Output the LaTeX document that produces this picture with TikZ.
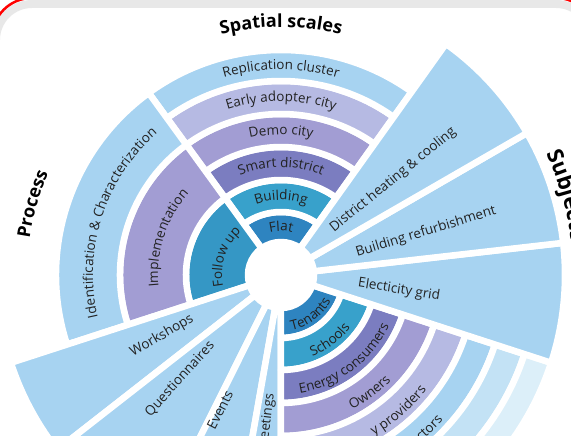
\documentclass[tikz,border=0pt]{standalone}
\usepackage{fontspec}
\setmainfont{Open Sans}
\usetikzlibrary{decorations.text}
\definecolor{lightsky}{HTML}{A7D3F1}
\definecolor{flatblue}{HTML}{2E84C0}
\definecolor{buildblue}{HTML}{38A1CB}
\definecolor{followblue}{HTML}{3597C5}
\definecolor{smartpurple}{HTML}{7B7DC0}
\definecolor{demopurple}{HTML}{A29DD3}
\definecolor{earlyviolet}{HTML}{B6BAE3}
\definecolor{paleblue}{HTML}{C3E2F5}
\definecolor{palerblue}{HTML}{DCEFF9}
\definecolor{textgrey}{HTML}{222222}
\newcommand{\lblfont}{\fontsize{13.5}{15}\selectfont}
\newcommand{\ttlfont}{\fontsize{18}{21}\selectfont\bfseries}
% fill colour, start angle, end angle, inner radius, outer radius
\newcommand{\ringpart}[5]{\filldraw[segment, fill=#1] (#2:#4) arc[start angle=#2, end angle=#3, radius=#4] -- (#3:#5) arc[start angle=#3, end angle=#2, radius=#5] -- cycle;}
% [align], start angle, end angle, radius, text
\newcommand{\arclabel}[5][center]{\path[ringtext, decoration={text align=#1, text={|\lblfont|#5}}] (#2:#4) arc[start angle=#2, end angle=#3, radius=#4];}

\begin{document}
\begin{tikzpicture}[x=1pt, y=1pt,
  segment/.style={draw=white, line width=6.5pt, line join=round},
  ringtext/.style={decorate, decoration={text along path, text align=center, text color=textgrey}},
  titletext/.style={decorate, decoration={text along path, text align=center, text color=black}},
  wedgelabel/.style={text=textgrey, font=\lblfont, inner sep=0pt}]
\useasboundingbox (-281,-161) rectangle (290,275);
\clip (-281,-161) rectangle (290,275);

% frame
\draw[black!9, line width=8pt, rounded corners=36pt] (-285,-400) rectangle (311,271);
\draw[red, line width=2.5pt, rounded corners=40pt] (-289,-400) rectangle (315,277);

% spatial scales
\ringpart{flatblue}{54.5}{126}{33}{63}
\ringpart{buildblue}{54.5}{126}{63}{95}
\ringpart{smartpurple}{54.5}{126}{95}{128}
\ringpart{demopurple}{54.5}{126}{128}{161}
\ringpart{earlyviolet}{54.5}{126}{161}{194}
\ringpart{lightsky}{54.5}{126}{194}{225}

% process
\ringpart{followblue}{126}{198}{33}{95}
\ringpart{demopurple}{126}{198}{95}{161}
\ringpart{lightsky}{126}{198}{161}{225}

% methods
\ringpart{lightsky}{198}{218}{33}{284}
\ringpart{lightsky}{218}{243.5}{33}{284}
\ringpart{lightsky}{243.5}{260}{33}{284}
\ringpart{lightsky}{260}{270}{33}{284}

% stakeholders
\ringpart{flatblue}{270}{342}{33}{63}
\ringpart{buildblue}{270}{342}{63}{95}
\ringpart{smartpurple}{270}{342}{95}{128}
\ringpart{demopurple}{270}{342}{128}{161}
\ringpart{earlyviolet}{270}{342}{161}{194}
\ringpart{lightsky}{270}{342}{194}{225}
\ringpart{paleblue}{270}{342}{225}{256}
\ringpart{palerblue}{270}{342}{256}{284}

% subjects
\ringpart{lightsky}{-18}{6.5}{33}{284}
\ringpart{lightsky}{6.5}{30}{33}{284}
\ringpart{lightsky}{30}{54.5}{33}{284}

% titles
\path[titletext, decoration={text={|\ttlfont|Spatial scales}}] (125:248) arc[start angle=125, end angle=55, radius=248];
\path[titletext, decoration={text={|\ttlfont|Process}}] (200:254) arc[start angle=200, end angle=128, radius=254];
\path[titletext, decoration={text={|\fontsize{22}{25}\selectfont\bfseries|Subjects}}] (38.5:292) arc[start angle=38.5, end angle=-7.5, radius=292];

% ring labels
\arclabel{125}{55}{44}{Flat}
\arclabel{125}{55}{75}{Building}
\arclabel{125}{55}{107.5}{Smart district}
\arclabel{125}{55}{140.5}{Demo city}
\arclabel{125}{55}{173.5}{Early adopter city}
\arclabel{125}{55}{205.5}{Replication cluster}
\arclabel{200}{124}{59}{Follow up}
\arclabel{205}{119}{123}{Implementation}
\arclabel{210}{114}{188}{Identification {\&} Characterization}
\arclabel{-95}{-11}{56}{Tenants}
\arclabel{-95}{-11}{87}{Schools}
\arclabel{-95}{-11}{119.5}{Energy consumers}
\arclabel{-95}{-11}{152.5}{Owners}
\arclabel[left]{-60}{-10}{185.5}{y providers}
\arclabel[left]{-50}{-20}{217.5}{ctors}

% wedge labels
\node[wedgelabel, rotate=39] (districtheat) at (112,95) {District heating \& cooling};
\node[wedgelabel, rotate=17] (buildref) at (145,43) {Building refurbishment};
\node[wedgelabel, rotate=-9] (elecgrid) at (118,-15) {Electicity grid};
\node[wedgelabel, rotate=30] (workshops) at (-119,-61) {Workshops};
\node[wedgelabel, rotate=48] (questionnaires) at (-101,-104) {Questionnaires};
\node[wedgelabel, rotate=63] (events) at (-61,-135) {Events};
\node[wedgelabel, rotate=83, anchor=west] (meetings) at (-16,-164) {eetings};
\end{tikzpicture}
\end{document}
